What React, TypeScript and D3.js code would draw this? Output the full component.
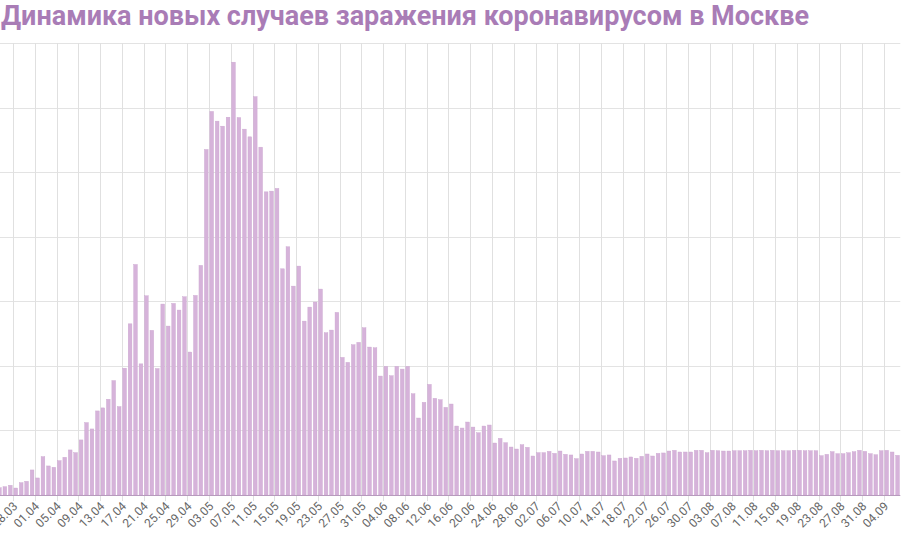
import React from "react";
import * as d3 from "d3";

const title = "Динамика новых случаев заражения коронавирусом в Москве";

// first day shown: 25.03.2020, last: 06.09.2020
const startDate = new Date(Date.UTC(2020, 2, 25));
const endDate = new Date(Date.UTC(2020, 8, 7));
const days: Date[] = d3.utcDay.range(startDate, endDate);
const fmt = d3.utcFormat("%d.%m");
const categories: string[] = days.map((d) => fmt(d));

const newCases: number[] = [
  113, 129, 150, 108, 191, 212, 388, 264, 594, 450,
  429, 532, 584, 698, 656, 853, 1121, 1023, 1302, 1349,
  1483, 1772, 1369, 1964, 2651, 3570, 2031, 3085, 2550, 1958,
  2957, 2616, 2967, 2864, 3070, 2214, 3091, 3556, 5351, 5940,
  5790, 5712, 5851, 6703, 5846, 5666, 5547, 6169, 5387, 4695,
  4706, 4748, 3503, 3844, 3235, 3545, 2693, 2910, 2988, 3189,
  2513, 2554, 2828, 2131, 2054, 2327, 2364, 2590, 2291, 2280,
  1842, 1992, 1847, 1992, 1950, 1992, 1568, 1192, 1435, 1713,
  1497, 1476, 1357, 1409, 1068, 1037, 1130, 1052, 964, 1068,
  1084, 805, 877, 810, 743, 712, 779, 738, 604, 656,
  656, 676, 645, 681, 630, 620, 563, 635, 676, 676,
  666, 609, 620, 527, 568, 573, 589, 568, 599, 635,
  604, 645, 651, 681, 692, 666, 666, 666, 692, 692,
  655, 692, 686, 681, 681, 686, 686, 686, 692, 686,
  692, 686, 692, 686, 686, 686, 692, 692, 686, 686,
  686, 609, 630, 671, 640, 640, 655, 671, 692, 676,
  640, 624, 686, 692, 666, 614,
];

const yTicks: number[] = [1000, 2000, 3000, 4000, 5000, 6000, 7000];
const labelEvery = 4;
const firstLabelIndex = 3; // 28.03

const W = 909;
const H = 540;

export default function App() {
  const plotLeft = -3.3;
  const plotRight = 900.3;
  const plotTop = 43;
  const plotBottom = 495;

  const x = d3
    .scaleBand<string>()
    .domain(categories)
    .range([plotLeft, plotRight])
    .paddingInner(0)
    .paddingOuter(0);
  const step = x.step();
  const barW = step * 0.68;

  const y = d3.scaleLinear().domain([0, 7000]).range([plotBottom, plotTop]);

  const labelIdx = categories
    .map((_, i) => i)
    .filter((i) => i >= firstLabelIndex && (i - firstLabelIndex) % labelEvery === 0);

  return (
    <div style={{ position: "absolute", left: 0, top: 0, width: W, height: H, overflow: "hidden", background: "#fff" }}>
      <svg width={W} height={H} style={{ display: "block" }}>
        <text
          x={1}
          y={25}
          fontFamily="Roboto, 'Noto Sans', sans-serif"
          fontWeight={700}
          fontSize={27}
          fill="#a97cb6"
        >
          {title}
        </text>
        {/* horizontal gridlines */}
        {yTicks.map((t) => (
          <line
            key={"h" + t}
            x1={0}
            x2={plotRight}
            y1={Math.round(y(t)) + 0.5}
            y2={Math.round(y(t)) + 0.5}
            stroke="#e3e3e3"
            strokeWidth={1}
          />
        ))}
        {/* vertical gridlines */}
        {labelIdx.map((i) => {
          const gx = Math.round(x(categories[i])!) + 0.5;
          return (
            <line
              key={"v" + i}
              x1={gx}
              x2={gx}
              y1={plotTop}
              y2={plotBottom + 6}
              stroke="#e0e0e0"
              strokeWidth={1}
            />
          );
        })}
        {/* bars */}
        {newCases.map((v, i) => {
          const bx = x(categories[i])! + (step - barW) / 2;
          return (
            <rect
              key={"b" + i}
              x={bx}
              y={y(v)}
              width={barW}
              height={plotBottom - y(v)}
              fill="#d6b3da"
              stroke="#cba6cf"
              strokeWidth={0.4}
            />
          );
        })}
        {/* x axis line */}
        <line x1={0} x2={plotRight} y1={plotBottom + 0.5} y2={plotBottom + 0.5} stroke="#b79bbd" strokeWidth={1} />
        {/* x labels */}
        {labelIdx.map((i) => {
          const cx = x(categories[i])! + step / 2 - 0.5;
          return (
            <text
              key={"l" + i}
              transform={`translate(${cx},${plotBottom + 9}) rotate(-45)`}
              textAnchor="end"
              dy="0.35em"
              fontFamily="Roboto, 'Noto Sans', sans-serif"
              fontSize={12}
              fill="#666"
            >
              {categories[i]}
            </text>
          );
        })}
      </svg>
    </div>
  );
}
